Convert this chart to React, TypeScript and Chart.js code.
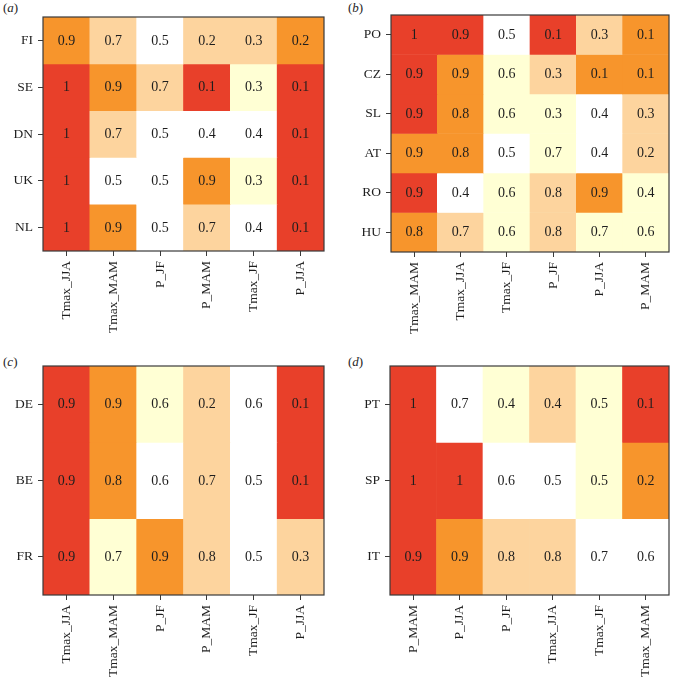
import React, { useEffect, useRef } from "react";
import { Chart, registerables } from "chart.js";

Chart.register(...registerables);

// Colour classes: 0 white, 1 light yellow, 2 peach, 3 orange, 4 red
const palette = ["#ffffff", "#ffffd4", "#fdd49e", "#f7952c", "#e8402a"];

const rowsA = ["FI", "SE", "DN", "UK", "NL"];
const colsA = ["Tmax_JJA", "Tmax_MAM", "P_JF", "P_MAM", "Tmax_JF", "P_JJA"];
const valuesA = [
  [0.9, 0.7, 0.5, 0.2, 0.3, 0.2],
  [1, 0.9, 0.7, 0.1, 0.3, 0.1],
  [1, 0.7, 0.5, 0.4, 0.4, 0.1],
  [1, 0.5, 0.5, 0.9, 0.3, 0.1],
  [1, 0.9, 0.5, 0.7, 0.4, 0.1],
];
const levelsA = [
  [3, 2, 0, 2, 2, 3],
  [4, 3, 2, 4, 1, 4],
  [4, 2, 0, 0, 0, 4],
  [4, 0, 0, 3, 1, 4],
  [4, 3, 0, 2, 0, 4],
];

const rowsB = ["PO", "CZ", "SL", "AT", "RO", "HU"];
const colsB = ["Tmax_MAM", "Tmax_JJA", "Tmax_JF", "P_JF", "P_JJA", "P_MAM"];
const valuesB = [
  [1, 0.9, 0.5, 0.1, 0.3, 0.1],
  [0.9, 0.9, 0.6, 0.3, 0.1, 0.1],
  [0.9, 0.8, 0.6, 0.3, 0.4, 0.3],
  [0.9, 0.8, 0.5, 0.7, 0.4, 0.2],
  [0.9, 0.4, 0.6, 0.8, 0.9, 0.4],
  [0.8, 0.7, 0.6, 0.8, 0.7, 0.6],
];
const levelsB = [
  [4, 4, 0, 4, 2, 3],
  [4, 3, 1, 2, 3, 3],
  [4, 3, 1, 1, 0, 2],
  [3, 3, 0, 1, 0, 2],
  [4, 0, 1, 2, 3, 1],
  [3, 2, 1, 2, 1, 1],
];

const rowsC = ["DE", "BE", "FR"];
const colsC = ["Tmax_JJA", "Tmax_MAM", "P_JF", "P_MAM", "Tmax_JF", "P_JJA"];
const valuesC = [
  [0.9, 0.9, 0.6, 0.2, 0.6, 0.1],
  [0.9, 0.8, 0.6, 0.7, 0.5, 0.1],
  [0.9, 0.7, 0.9, 0.8, 0.5, 0.3],
];
const levelsC = [
  [4, 3, 1, 2, 0, 4],
  [4, 3, 0, 2, 0, 4],
  [4, 1, 3, 2, 0, 2],
];

const rowsD = ["PT", "SP", "IT"];
const colsD = ["P_MAM", "P_JJA", "P_JF", "Tmax_JJA", "Tmax_JF", "Tmax_MAM"];
const valuesD = [
  [1, 0.7, 0.4, 0.4, 0.5, 0.1],
  [1, 1, 0.6, 0.5, 0.5, 0.2],
  [0.9, 0.9, 0.8, 0.8, 0.7, 0.6],
];
const levelsD = [
  [4, 0, 1, 2, 1, 4],
  [4, 4, 0, 0, 1, 3],
  [4, 3, 2, 2, 0, 0],
];

const FONT = "'Liberation Serif', 'Times New Roman', serif";
const FS = 13.5;
const CELL_FS = 14;
const TEXT = "#1e1e1e";
const LINE = "#3a3a3a";

type PanelProps = {
  rows: string[];
  cols: string[];
  values: number[][];
  levels: number[][];
  left: number;
  top: number;
  width: number;
  height: number;
  yWidth: number;
  xHeight: number;
  padTop: number;
  padRight: number;
};

function Panel(p: PanelProps) {
  const ref = useRef<HTMLCanvasElement | null>(null);
  useEffect(() => {
    if (!ref.current) return;
    const cellText = {
      id: "cellText",
      afterDatasetsDraw(chart: any) {
        const ctx = chart.ctx;
        ctx.save();
        ctx.font = `${CELL_FS}px ${FONT}`;
        ctx.fillStyle = TEXT;
        ctx.textAlign = "center";
        ctx.textBaseline = "middle";
        p.rows.forEach((_, i) => {
          const meta = chart.getDatasetMeta(i);
          meta.data.forEach((el: any, j: number) => {
            const cy = (el.y + el.base) / 2;
            ctx.fillText(String(p.values[i][j]), el.x, cy + 0.5);
          });
        });
        ctx.restore();
      },
      afterDraw(chart: any) {
        const { left, top, right, bottom } = chart.chartArea;
        const ctx = chart.ctx;
        ctx.save();
        ctx.strokeStyle = LINE;
        ctx.lineWidth = 1.2;
        ctx.strokeRect(left, top, right - left, bottom - top);
        ctx.restore();
      },
    };
    const chart = new Chart(ref.current, {
      type: "bar",
      data: {
        labels: p.cols,
        datasets: p.rows.map((r, i) => ({
          label: r,
          data: p.cols.map(() => 1),
          backgroundColor: p.levels[i].map((l) => palette[l]),
          borderWidth: 0,
          barPercentage: 1,
          categoryPercentage: 1,
        })),
      },
      options: {
        animation: false,
        responsive: false,
        devicePixelRatio: 1,
        layout: { padding: { left: 0, right: p.padRight, top: p.padTop, bottom: 0 } },
        plugins: { legend: { display: false }, tooltip: { enabled: false } },
        scales: {
          x: {
            stacked: true,
            grid: {
              display: true,
              drawOnChartArea: false,
              drawTicks: true,
              tickLength: 5,
              offset: false,
              color: LINE,
              lineWidth: 1,
            },
            border: { display: false },
            ticks: {
              autoSkip: false,
              maxRotation: 90,
              minRotation: 90,
              padding: 5,
              color: TEXT,
              font: { family: FONT, size: FS },
            },
            afterFit(scale: any) {
              scale.height = p.xHeight;
            },
          },
          y: {
            type: "linear",
            stacked: true,
            reverse: true,
            min: 0,
            max: p.rows.length,
            grid: {
              display: true,
              drawOnChartArea: false,
              drawTicks: true,
              tickLength: 5,
              color: LINE,
              lineWidth: 1,
            },
            border: { display: false },
            afterBuildTicks(scale: any) {
              scale.ticks = p.rows.map((_, i) => ({ value: i + 0.5 }));
            },
            ticks: {
              padding: 5,
              color: TEXT,
              font: { family: FONT, size: FS },
              callback: (v: any) => p.rows[Math.floor(Number(v))],
            },
            afterFit(scale: any) {
              scale.width = p.yWidth;
            },
          },
        },
      },
      plugins: [cellText],
    } as any);
    return () => chart.destroy();
  }, []);
  return (
    <canvas
      ref={ref}
      width={p.width}
      height={p.height}
      style={{
        position: "absolute",
        left: p.left,
        top: p.top,
        width: p.width,
        height: p.height,
      }}
    />
  );
}

function Tag({ letter, left, top }: { letter: string; left: number; top: number }) {
  return (
    <div
      style={{
        position: "absolute",
        left,
        top,
        fontFamily: FONT,
        fontSize: 13,
        lineHeight: "14px",
        color: TEXT,
      }}
    >
      (<i>{letter}</i>)
    </div>
  );
}

export default function App() {
  return (
    <div
      style={{
        position: "absolute",
        left: 0,
        top: 0,
        width: 675,
        height: 681,
        background: "#ffffff",
        overflow: "hidden",
      }}
    >
      <Tag letter="a" left={3} top={1} />
      <Tag letter="b" left={348} top={1} />
      <Tag letter="c" left={3} top={355} />
      <Tag letter="d" left={348} top={355} />
      <Panel rows={rowsA} cols={colsA} values={valuesA} levels={levelsA}
        left={0} top={0} width={337} height={340}
        yWidth={43} xHeight={89} padTop={17} padRight={13} />
      <Panel rows={rowsB} cols={colsB} values={valuesB} levels={levelsB}
        left={337} top={0} width={338} height={340}
        yWidth={54} xHeight={88} padTop={15} padRight={6} />
      <Panel rows={rowsC} cols={colsC} values={valuesC} levels={levelsC}
        left={0} top={340} width={337} height={341}
        yWidth={43} xHeight={86} padTop={26} padRight={13} />
      <Panel rows={rowsD} cols={colsD} values={valuesD} levels={levelsD}
        left={337} top={340} width={338} height={341}
        yWidth={53} xHeight={86} padTop={26} padRight={6} />
    </div>
  );
}
